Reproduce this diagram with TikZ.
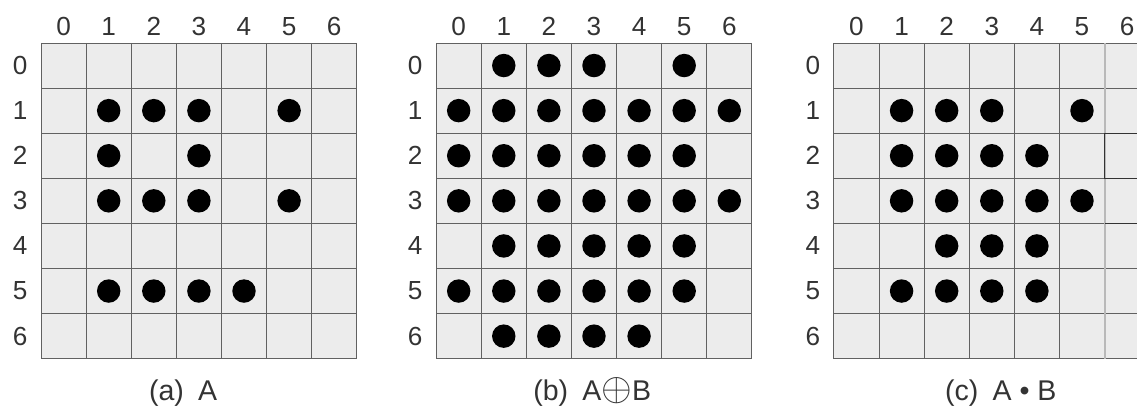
\documentclass[tikz,border=0pt]{standalone}
\usepackage{fontspec}
\setmainfont{Liberation Sans}
\usetikzlibrary{positioning}

\begin{document}
\begin{tikzpicture}[
    x=1cm, y=-1cm,
    gridline/.style={black!62, line width=0.6pt},
    pixel/.style={circle, fill=black, inner sep=0pt, minimum size=0.52cm},
    idx/.style={font=\fontsize{16.5}{16.5}\selectfont, text=black!80, inner sep=0pt},
    caption/.style={font=\fontsize{18}{18}\selectfont, text=black!80, anchor=base, inner sep=0pt}
  ]
    \useasboundingbox (0,0) rectangle (25.21,9.047);
    % three 7x7 pixel grids with row/column indices
    \foreach \g/\gx in {a/0.91, b/9.67, c/18.49} {
      \begin{scope}[shift={(\gx,0.953)}]
        \fill[gray!15] (0,0) rectangle (7,7);
        \foreach \i in {0,...,7} {
          \draw[gridline] (\i,0) -- (\i,7);
          \draw[gridline] (0,\i) -- (7,\i);
        }
        \foreach \i in {0,...,6} {
          \node[idx] (\g-c\i) at (\i+0.5,-0.36) {\i};
          \node[idx] (\g-r\i) at (-0.465,\i+0.5) {\i};
        }
      \end{scope}
    }
    % (a) A
    \begin{scope}[shift={(0.91,0.953)}]
      \foreach \r/\c in {1/1,1/2,1/3,1/5, 2/1,2/3, 3/1,3/2,3/3,3/5, 5/1,5/2,5/3,5/4}
        \node[pixel] (a-\r-\c) at (\c+0.5,\r+0.5) {};
    \end{scope}
    % (b) dilation
    \begin{scope}[shift={(9.67,0.953)}]
      \foreach \r/\c in {0/1,0/2,0/3,0/5,
                         1/0,1/1,1/2,1/3,1/4,1/5,1/6,
                         2/0,2/1,2/2,2/3,2/4,2/5,
                         3/0,3/1,3/2,3/3,3/4,3/5,3/6,
                         4/1,4/2,4/3,4/4,4/5,
                         5/0,5/1,5/2,5/3,5/4,5/5,
                         6/1,6/2,6/3,6/4}
        \node[pixel] (b-\r-\c) at (\c+0.5,\r+0.5) {};
    \end{scope}
    % (c) closing
    \begin{scope}[shift={(18.49,0.953)}]
      \draw[gray!55, line width=1.3pt] (6,0) -- (6,7);
      \draw[black!80, line width=0.7pt] (7.2,2) -- (6,2) -- (6,3) -- (7.2,3);
      \draw[black!80, line width=0.7pt] (6,4) -- (7.2,4);
      \foreach \r/\c in {1/1,1/2,1/3,1/5,
                         2/1,2/2,2/3,2/4,
                         3/1,3/2,3/3,3/4,3/5,
                         4/2,4/3,4/4,
                         5/1,5/2,5/3,5/4}
        \node[pixel] (c-\r-\c) at (\c+0.5,\r+0.5) {};
    \end{scope}
    \node[caption] (capA) at (4.06,8.89) {(a)\enspace A};
    \node[caption] (capB) at (13.13,8.89) {(b)\enspace A{\fontsize{23}{23}\selectfont$\oplus$}B};
    \node[caption] (capC) at (22.19,8.89) {(c)\enspace A \textbullet{} B};
\end{tikzpicture}
\end{document}
